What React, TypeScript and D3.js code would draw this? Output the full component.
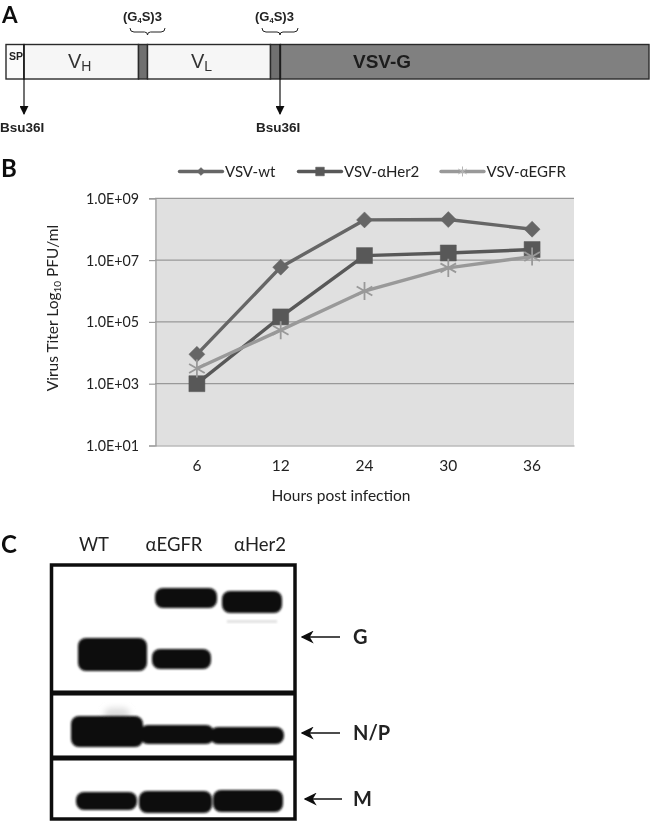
import React, { useEffect, useRef } from 'react';
import * as d3 from 'd3';

const W = 650;
const H = 825;
const CAL = 'Lato, sans-serif';
const ARIAL = '"Liberation Sans", Arial, sans-serif';

// panel B data
const hours = ['6', '12', '24', '30', '36'];
const vsvWt = [8.9e3, 5.9e6, 2.0e8, 2.05e8, 1.0e8];
const vsvHer2 = [1.0e3, 1.45e5, 1.4e7, 1.7e7, 2.2e7];
const vsvEgfr = [3.1e3, 5.4e4, 1.0e6, 5.6e6, 1.3e7];
const yTicks = [1e1, 1e3, 1e5, 1e7, 1e9];

const seriesList = [
  { name: 'VSV-wt', values: vsvWt, color: '#666666', symbol: d3.symbolDiamond2, size: 163, legendSize: 40, legendX: 179.5 },
  { name: 'VSV-αHer2', values: vsvHer2, color: '#595959', symbol: d3.symbolSquare, size: 256, legendSize: 75, legendX: 298.5 },
  { name: 'VSV-αEGFR', values: vsvEgfr, color: '#999999', symbol: d3.symbolAsterisk, size: 230, legendSize: 70, legendX: 441 },
];

// panel A construct: segment edges in pixels
const segNames = ['SP', 'VH', 'link1', 'VL', 'link2', 'VSV-G'];
const segEdges = [6, 24, 138.5, 147.5, 270.5, 280.5, 649];
const segFills = ['#fbfbfb', '#f6f6f6', '#6f6f6f', '#f6f6f6', '#6f6f6f', '#808080'];

// panel C blots: [x0, x1, y0, y1]
const blotBands = [
  [155, 217, 588, 608],
  [222, 282, 591, 613],
  [78, 147, 638, 671],
  [152, 211, 649, 669],
  [71, 143, 716, 747],
  [140, 214, 725, 744],
  [210, 284, 727, 744],
  [76, 137, 792, 810],
  [139, 212, 791, 813],
  [213, 283, 790, 812],
];
const blotArrows = [
  { label: 'G', y: 637, x0: 340, x1: 302 },
  { label: 'N/P', y: 733, x0: 340, x1: 302 },
  { label: 'M', y: 799, x0: 342, x1: 305 },
];
const laneLabels = [
  { label: 'WT', x: 94 },
  { label: 'αEGFR', x: 174 },
  { label: 'αHer2', x: 260 },
];

const x = d3.scaleBand().domain(hours).range([155, 574]);
const y = d3.scaleLog().domain([1e1, 1e9]).range([445.5, 198.3]);

const sciLabel = (v: number) => {
  const e = Math.round(Math.log10(v));
  return `1.0E+${String(e).padStart(2, '0')}`;
};

const Brace = ({ x0, x1 }: { x0: number; x1: number }) => {
  const m = (x0 + x1) / 2;
  return (
    <path
      d={`M${x0},28 Q${x0},32 ${x0 + 4},32 L${m - 3},32 Q${m},32 ${m},35 Q${m},32 ${m + 3},32 L${x1 - 4},32 Q${x1},32 ${x1},28`}
      fill="none"
      stroke="#222"
      strokeWidth={1}
    />
  );
};

const App = () => {
  const axisRef = useRef<SVGGElement>(null);

  useEffect(() => {
    const g = d3.select(axisRef.current);
    g.selectAll('*').remove();

    const left = g.append('g')
      .attr('transform', 'translate(155.5,0)')
      .call(d3.axisLeft(y).tickValues(yTicks).tickFormat(d => sciLabel(+d)).tickSize(6.5).tickPadding(10));
    left.selectAll('path,line').attr('stroke', '#999').attr('stroke-width', 1.2);
    left.selectAll('text')
      .attr('font-family', CAL).attr('font-size', 15.5).attr('fill', '#222')
      .attr('textLength', 53).attr('lengthAdjust', 'spacingAndGlyphs');

    const bottom = g.append('g')
      .attr('transform', 'translate(0,445.5)')
      .call(d3.axisBottom(x).tickSize(0).tickPadding(14));
    bottom.selectAll('path').attr('stroke', '#999').attr('stroke-width', 1.2);
    bottom.selectAll('text').attr('font-family', CAL).attr('font-size', 15.5).attr('fill', '#222');
  }, []);

  const cx = (h: string) => (x(h) as number) + x.bandwidth() / 2;
  const line = d3.line<number>()
    .x((_, i) => cx(hours[i]))
    .y(d => y(d));

  return (
    <svg width={W} height={H} style={{ position: 'absolute', left: 0, top: 0, background: '#fff' }}>
      <defs>
        <filter id="soft" x="-10%" y="-30%" width="120%" height="160%">
          <feGaussianBlur stdDeviation="1.3" />
        </filter>
        <filter id="haze" x="-40%" y="-40%" width="180%" height="180%">
          <feGaussianBlur stdDeviation="3" />
        </filter>
        <filter id="jpeg" filterUnits="userSpaceOnUse" x={0} y={0} width={W} height={H}>
          <feGaussianBlur stdDeviation="0.4" />
        </filter>
        <marker id="head" viewBox="0 0 10 10" refX="9" refY="5" markerWidth="9" markerHeight="9" markerUnits="userSpaceOnUse" orient="auto">
          <path d="M0,0 L10,5 L0,10 Z" fill="#111" />
        </marker>
        <marker id="headBig" viewBox="0 0 10 10" refX="9" refY="5" markerWidth="13" markerHeight="13" markerUnits="userSpaceOnUse" orient="auto">
          <path d="M0,0 L10,5 L0,10 L3,5 Z" fill="#111" />
        </marker>
      </defs>

      <g filter="url(#jpeg)">
        {/* panel A */}
        <text x={2} y={22.5} fontFamily={CAL} fontWeight={700} fontSize={22.5} fill="#111">A</text>
        {segNames.map((n, i) => (
          <rect key={n} x={segEdges[i]} y={44.5} width={segEdges[i + 1] - segEdges[i]} height={34.5}
            fill={segFills[i]} stroke="#2b2b2b" strokeWidth={1.4} />
        ))}
        <text x={9} y={60} fontFamily={ARIAL} fontWeight={700} fontSize={10.5} fill="#222">SP</text>
        <text x={68} y={68} fontFamily={ARIAL} fontSize={20} fill="#333">V<tspan fontSize={14} dy={3}>H</tspan></text>
        <text x={191} y={68} fontFamily={ARIAL} fontSize={20} fill="#333">V<tspan fontSize={14} dy={3}>L</tspan></text>
        <text x={353} y={68} fontFamily={ARIAL} fontWeight={700} fontSize={19} fill="#1c1c1c">VSV-G</text>
        <text x={123} y={21} fontFamily={ARIAL} fontWeight={700} fontSize={13} fill="#222">(G<tspan fontSize={7.5} dy={2}>4</tspan><tspan dy={-2}>S)3</tspan></text>
        <text x={255} y={21} fontFamily={ARIAL} fontWeight={700} fontSize={13} fill="#222">(G<tspan fontSize={7.5} dy={2}>4</tspan><tspan dy={-2}>S)3</tspan></text>
        <Brace x0={130} x1={165} />
        <Brace x0={262} x1={298} />
        <line x1={24} x2={24} y1={44} y2={114} stroke="#111" strokeWidth={1.2} markerEnd="url(#head)" />
        <line x1={280} x2={280} y1={44} y2={114} stroke="#111" strokeWidth={1.2} markerEnd="url(#head)" />
        <text x={0} y={132} fontFamily={ARIAL} fontWeight={700} fontSize={13.5} fill="#222">Bsu36I</text>
        <text x={256} y={132} fontFamily={ARIAL} fontWeight={700} fontSize={13.5} fill="#222">Bsu36I</text>

        {/* panel B */}
        <text x={1} y={177} fontFamily={CAL} fontWeight={700} fontSize={24} fill="#111">B</text>
        <rect x={155} y={198.3} width={419} height={247.2} fill="#e0e0e0" />
        {yTicks.slice(1).map(t => (
          <line key={t} x1={155} x2={574} y1={y(t)} y2={y(t)} stroke="#999" strokeWidth={1.3} />
        ))}
        <g ref={axisRef} />
        {seriesList.map(s => (
          <g key={s.name}>
            <path d={line(s.values) as string} fill="none" stroke={s.color} strokeWidth={3.4} />
            {s.values.map((v, i) => (
              <path key={hours[i]}
                transform={`translate(${cx(hours[i])},${y(v)})`}
                d={d3.symbol().type(s.symbol).size(s.size)() as string}
                fill={s.symbol === d3.symbolAsterisk ? 'none' : s.color}
                stroke={s.color}
                strokeWidth={s.symbol === d3.symbolAsterisk ? 1.8 : 0.5} />
            ))}
            <line x1={s.legendX} x2={s.legendX + 43} y1={171.5} y2={171.5} stroke={s.color} strokeWidth={3.4} strokeLinecap="round" />
            <path transform={`translate(${s.legendX + 21.5},171.5)`}
              d={d3.symbol().type(s.symbol).size(s.legendSize)() as string}
              fill={s.symbol === d3.symbolAsterisk ? 'none' : s.color}
              stroke={s.symbol === d3.symbolAsterisk ? '#b5b5b5' : s.color}
              strokeWidth={s.symbol === d3.symbolAsterisk ? 1 : 0.5} />
            <text x={s.legendX + 45.5} y={176.5} fontFamily={CAL} fontSize={15} fill="#222">{s.name}</text>
          </g>
        ))}
        <text transform="translate(58,308) rotate(-90)" textAnchor="middle" fontFamily={CAL} fontSize={15.5} fill="#222">
          Virus Titer Log<tspan fontSize={10} dy={3}>10</tspan><tspan dy={-3}> PFU/ml</tspan>
        </text>
        <text x={341} y={501} textAnchor="middle" fontFamily={CAL} fontSize={15.5} fill="#222">Hours post infection</text>

        {/* panel C */}
        <text x={1} y={553} fontFamily={CAL} fontWeight={700} fontSize={24} fill="#111">C</text>
        {laneLabels.map(d => (
          <text key={d.label} x={d.x} y={551} textAnchor="middle" fontFamily={CAL} fontSize={18.5} fill="#222">{d.label}</text>
        ))}
        <rect x={104} y={708} width={26} height={14} rx={7} fill="#dcdcdc" filter="url(#haze)" />
        <g filter="url(#soft)" fill="#0a0a0a">
          {blotBands.map(([x0, x1, y0, y1]) => (
            <rect key={`${x0}-${y0}`} x={x0} y={y0} width={x1 - x0} height={y1 - y0} rx={8} ry={8} />
          ))}
        </g>
        <rect x={227} y={620} width={50} height={3} fill="#e2e2e2" filter="url(#soft)" />
        <rect x={51.5} y={565} width={243.5} height={254} fill="none" stroke="#0a0a0a" strokeWidth={3.5} />
        <line x1={51} x2={295} y1={693} y2={693} stroke="#0a0a0a" strokeWidth={5} />
        <line x1={51} x2={295} y1={758} y2={758} stroke="#0a0a0a" strokeWidth={5} />
        {blotArrows.map(a => (
          <g key={a.label}>
            <line x1={a.x0} x2={a.x1} y1={a.y} y2={a.y} stroke="#111" strokeWidth={1.6} markerEnd="url(#headBig)" />
            <text x={353} y={a.y + 7} fontFamily={CAL} fontWeight={700} fontSize={20} fill="#222">{a.label}</text>
          </g>
        ))}
      </g>
    </svg>
  );
};

export default App;
